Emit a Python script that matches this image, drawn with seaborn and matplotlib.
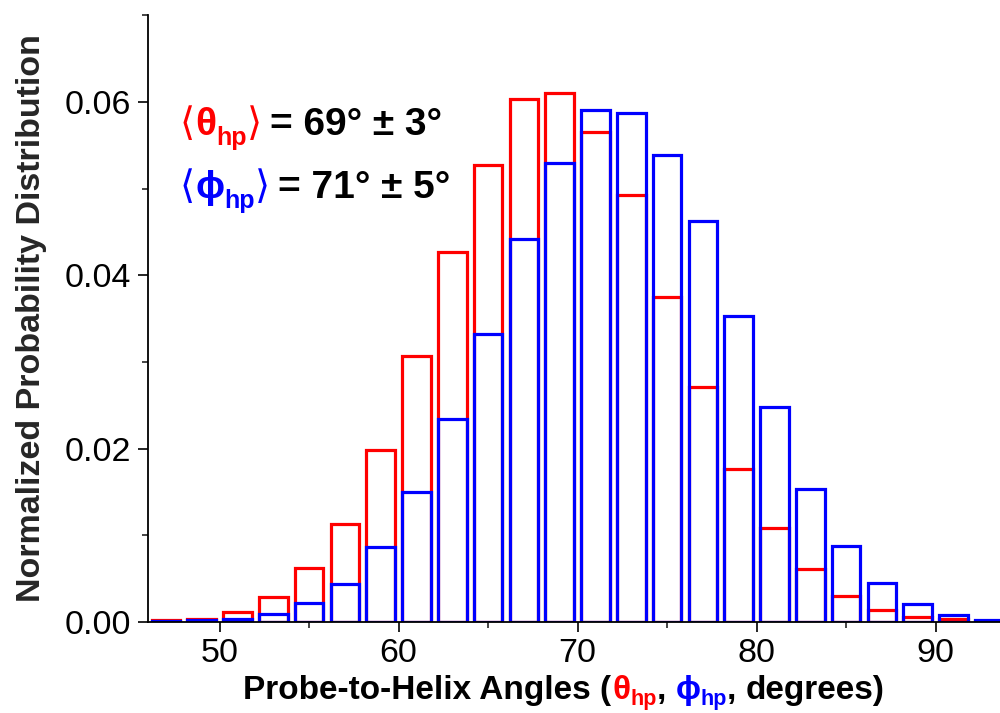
import matplotlib
matplotlib.use("Agg")
import matplotlib.pyplot as plt
import seaborn as sns
from matplotlib.ticker import MultipleLocator, FormatStrFormatter

# bin centres (degrees) and normalized probabilities
angles = [47, 49, 51, 53, 55, 57, 59, 61, 63, 65, 67, 69,
          71, 73, 75, 77, 79, 81, 83, 85, 87, 89, 91, 93]
theta_hp = [0.0002, 0.0004, 0.0012, 0.0029, 0.0062, 0.0113, 0.0199, 0.0307,
            0.0427, 0.0527, 0.0603, 0.0610, 0.0565, 0.0493, 0.0375, 0.0271,
            0.0176, 0.0108, 0.0061, 0.0030, 0.0014, 0.0006, 0.0004, 0.0001]
phi_hp = [0.0001, 0.0002, 0.0004, 0.0009, 0.0022, 0.0044, 0.0087, 0.0150,
          0.0234, 0.0332, 0.0442, 0.0529, 0.0591, 0.0587, 0.0539, 0.0463,
          0.0353, 0.0248, 0.0154, 0.0088, 0.0045, 0.0021, 0.0008, 0.0002]

RED = "#ff0000"
BLUE = "#0000ff"

sns.set_style("ticks")
plt.rcParams["font.family"] = ["Liberation Sans", "DejaVu Sans"]

fig = plt.figure(figsize=(10, 7.13), dpi=100)
ax = fig.add_axes([0.148, 0.1276, 0.852, 0.851])

# red first, blue outlines on top (both unfilled)
sns.barplot(x=angles, y=theta_hp, native_scale=True, width=0.8, fill=False,
            color=RED, saturation=1, linewidth=2.3, errorbar=None, ax=ax)
sns.barplot(x=angles, y=phi_hp, native_scale=True, width=0.8, fill=False,
            color=BLUE, saturation=1, linewidth=2.3, errorbar=None, ax=ax)

ax.set_xlim(46, 93.6)
ax.set_ylim(0, 0.07)
ax.xaxis.set_major_locator(MultipleLocator(10))
ax.xaxis.set_minor_locator(MultipleLocator(5))
ax.yaxis.set_major_locator(MultipleLocator(0.02))
ax.yaxis.set_minor_locator(MultipleLocator(0.01))
ax.yaxis.set_major_formatter(FormatStrFormatter("%.2f"))
ax.xaxis.set_major_formatter(FormatStrFormatter("%d"))
ax.tick_params(which="major", direction="out", length=7.2, width=1.2,
               labelsize=24.5, colors="black")
ax.tick_params(which="minor", direction="out", length=4.5, width=1.2)
ax.tick_params(axis="x", which="major", pad=4)
ax.tick_params(axis="y", which="major", pad=5)
ax.set_xlabel("")
ax.set_ylabel("")
sns.despine(ax=ax)
for s in ["left", "bottom"]:
    ax.spines[s].set_linewidth(1.3)
    ax.spines[s].set_color("black")
    ax.spines[s].set_zorder(5)

fig.text(0.040, 1 - 318.5 / 713, "Normalized Probability Distribution",
         rotation=90, rotation_mode="anchor", ha="center", va="baseline",
         fontsize=24.5, fontweight="bold")


def chain_text(pieces, x0, y0):
    # pieces: (text, color, size, dx points, dy points, weight)
    prev = None
    for s, color, size, dx, dy, weight in pieces:
        if prev is None:
            t = fig.text(x0, y0, s, color=color, fontsize=size,
                         fontweight=weight, ha="left", va="baseline")
        else:
            t = ax.annotate(s, xy=(1, y0), xycoords=(prev, "figure fraction"),
                            xytext=(dx, dy), textcoords="offset points",
                            color=color, fontsize=size, fontweight=weight,
                            ha="left", va="baseline", annotation_clip=False)
        prev = t


# x label with coloured symbols
chain_text([
    ("Probe-to-Helix Angles (", "black", 24, 0, 0, "bold"),
    ("θ", RED, 24, 1, 0, "bold"),
    ("hp", RED, 15.5, 0, -4.5, "bold"),
    (",", "black", 24, 0, 0, "bold"),
    ("ϕ", BLUE, 24, 6.5, 0, "bold"),
    ("hp", BLUE, 15.5, 0, -4.5, "bold"),
    (",", "black", 24, 0, 0, "bold"),
    ("degrees)", "black", 24, 6.5, 0, "bold"),
], 0.243, 14 / 713)

# mean angle annotations
chain_text([
    ("⟨", RED, 28, 0, 0, "normal"),
    ("θ", RED, 28, 0, 0, "bold"),
    ("hp", RED, 18, 0, -7, "bold"),
    ("⟩", RED, 28, 0, 0, "normal"),
    ("= 69° ± 3°", "black", 28, 6, 0, "bold"),
], 0.180, 1 - 135 / 713)
chain_text([
    ("⟨", BLUE, 28, 0, 0, "normal"),
    ("ϕ", BLUE, 28, 0, 0, "bold"),
    ("hp", BLUE, 18, 0, -7, "bold"),
    ("⟩", BLUE, 28, 0, 0, "normal"),
    ("= 71° ± 5°", "black", 28, 6, 0, "bold"),
], 0.180, 1 - 198 / 713)

fig.savefig("out.png", dpi=100)
